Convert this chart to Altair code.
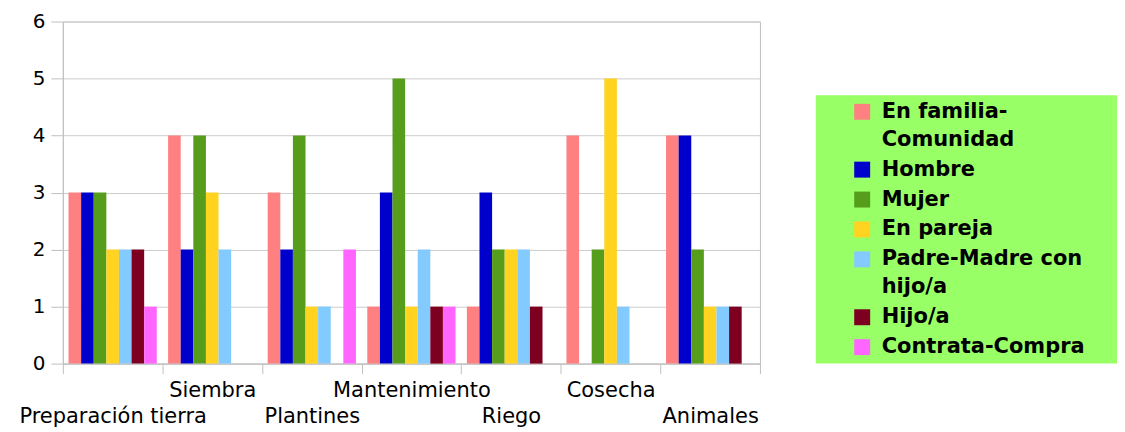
import json
import altair as alt
import pandas as pd

categories = ["Preparación tierra", "Siembra", "Plantines", "Mantenimiento", "Riego", "Cosecha", "Animales"]
series = ["En familia-Comunidad", "Hombre", "Mujer", "En pareja", "Padre-Madre con hijo/a", "Hijo/a", "Contrata-Compra"]
colors = ["#ff8080", "#0000cc", "#579d1c", "#ffd320", "#83caff", "#7e0021", "#ff66ff"]

en_familia = [3, 4, 3, 1, 1, 4, 4]
hombre = [3, 2, 2, 3, 3, 0, 4]
mujer = [3, 4, 4, 5, 2, 2, 2]
en_pareja = [2, 3, 1, 1, 2, 5, 1]
padre_madre = [2, 2, 1, 2, 2, 1, 1]
hijo = [2, 0, 0, 1, 1, 0, 1]
contrata = [1, 0, 2, 1, 0, 0, 0]

series_values = [en_familia, hombre, mujer, en_pareja, padre_madre, hijo, contrata]

rows = []
for s, vals in zip(series, series_values):
    for c, v in zip(categories, vals):
        rows.append({"categoria": c, "serie": s, "valor": v})
df = pd.DataFrame(rows)

FONT = "DejaVu Sans"
cats_js = json.dumps(categories, ensure_ascii=False)

x_label_expr = f"indexof({cats_js}, datum.value) % 2 == 0 ? ['', datum.label] : datum.label"
legend_label_expr = (
    "datum.label == 'En familia-Comunidad' ? ['En familia-', 'Comunidad'] : "
    "datum.label == 'Padre-Madre con hijo/a' ? ['Padre-Madre con', 'hijo/a'] : datum.label"
)

chart = alt.Chart(df).mark_bar().encode(
    x=alt.X("categoria:N", sort=categories, title=None,
            scale=alt.Scale(paddingInner=0, paddingOuter=0),
            axis=alt.Axis(labelAngle=0, tickBand="extent", tickSize=10, labelPadding=6,
                          labelBaseline="top", labelLineHeight=26, labelLimit=400,
                          labelExpr=x_label_expr, labelFontSize=21, labelFont=FONT,
                          labelColor="#000000", domainColor="#c0c0c0", tickColor="#c0c0c0",
                          labelOverlap=False, labelBound=False)),
    xOffset=alt.XOffset("serie:N", sort=series,
                        scale=alt.Scale(paddingOuter=0.45, paddingInner=0)),
    y=alt.Y("valor:Q", title=None,
            scale=alt.Scale(domain=[0, 6], nice=False),
            axis=alt.Axis(values=[0, 1, 2, 3, 4, 5, 6], tickSize=12, labelPadding=6,
                          labelFontSize=20, labelFont=FONT, labelColor="#000000",
                          gridColor="#cccccc", domainColor="#c0c0c0", tickColor="#c0c0c0")),
    color=alt.Color("serie:N", sort=series,
                    scale=alt.Scale(domain=series, range=colors),
                    legend=alt.Legend(title=" ", titleOrient="right", titlePadding=26,
                                      titleFontSize=20,
                                      orient="none", legendX=755, legendY=74,
                                      fillColor="#99ff66", padding=6, symbolOffset=30,
                                      symbolType="square", symbolSize=256, symbolStrokeWidth=0,
                                      labelFont=FONT, labelFontSize=21, labelFontWeight="bold",
                                      labelColor="#000000", labelOffset=9, labelExpr=legend_label_expr,
                                      labelLimit=400, rowPadding=8)),
).properties(
    width=699, height=343,
    padding={"left": 10, "top": 3, "right": 0, "bottom": 5},
).configure(
    style={"guide-label": {"lineHeight": 28}}
).configure_view(stroke="#c0c0c0")

chart.save("out.html", embed_options={"renderer": "svg", "actions": False})
